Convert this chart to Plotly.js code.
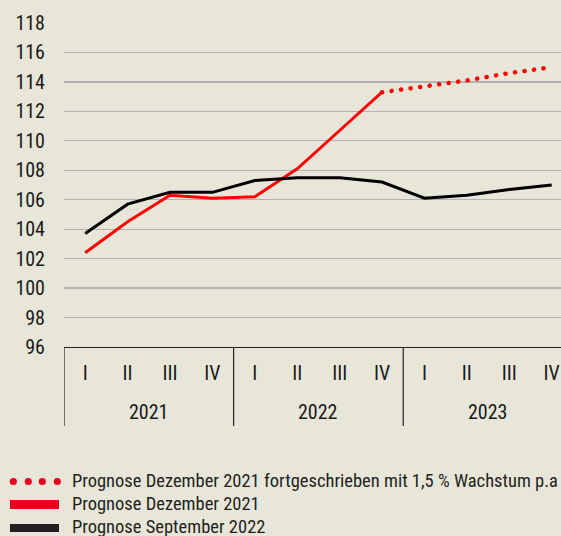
<!DOCTYPE html>
<html>
<head>
<meta charset="utf-8">
<script src="https://cdn.plot.ly/plotly-3.0.1.min.js"></script>
<style>
html,body{margin:0;padding:0;background:#e8e6d9;}
#chart{width:561px;height:536px;}
.tracedotted .js-line{stroke-linecap:round;}
text{font-stretch:condensed;}
</style>
</head>
<body>
<div id="chart"></div>
<script>
// ---- data ----
const years    = ['2021','2021','2021','2021','2022','2022','2022','2022','2023','2023','2023','2023'];
const quarters = ['I','II','III','IV','I','II','III','IV','I','II','III','IV'];
const redDec2021   = [102.4, 104.5, 106.3, 106.1, 106.2, 108.1, 110.7, 113.3, null, null, null, null];
const dottedGrowth = [null, null, null, null, null, null, null, 113.3, 113.7, 114.1, 114.6, 115.0];
const blackSep2022 = [103.7, 105.7, 106.5, 106.5, 107.3, 107.5, 107.5, 107.2, 106.1, 106.3, 106.7, 107.0];
const yTicks = [96, 98, 100, 102, 104, 106, 108, 110, 112, 114, 116, 118];
const legendNames = [
  'Prognose Dezember 2021 fortgeschrieben mit 1,5 % Wachstum p.a',
  'Prognose Dezember 2021',
  'Prognose September 2022'
];

// category keys (year + quarter) for the x scale
const keys = years.map((y, i) => y + ' ' + quarters[i]);
const uniqYears = [...new Set(years)];
const yearCenters = uniqYears.map(y => (years.indexOf(y) + years.lastIndexOf(y)) / 2);
const yearBounds = [-0.5].concat(uniqYears.map(y => years.lastIndexOf(y) + 0.5));

// ---- layout helpers ----
const W = 561, H = 536, ML = 64, MR = 0, MT = 23, MB = 189;
const PW = W - ML - MR, PH = H - MT - MB;
const px = x => (x - ML) / PW;
const py = y => (H - MB - y) / PH;
const FONT = 'Roboto, Liberation Sans Narrow, sans-serif';
const BG = '#e8e6d9';
const XR = [-0.5, 11.22];

const traces = [
  {x: keys, y: dottedGrowth, type: 'scatter', mode: 'lines', uid: 'dotted', name: legendNames[0],
   line: {color: '#ff0000', width: 4.5, dash: '0.1px,9.5px'}, hoverinfo: 'skip'},
  {x: keys, y: redDec2021, type: 'scatter', mode: 'lines', uid: 'red', name: legendNames[1],
   line: {color: '#ff0000', width: 3}, hoverinfo: 'skip'},
  {x: keys, y: blackSep2022, type: 'scatter', mode: 'lines', uid: 'black', name: legendNames[2],
   line: {color: '#000000', width: 3}, hoverinfo: 'skip'}
];

const shapes = [];
const annotations = [];
const tickFont = {family: FONT, size: 20, color: '#1a1a1a'};

// year group labels and dividers, placed on the x scale
uniqYears.forEach((y, i) => {
  annotations.push({text: y, xref: 'x', yref: 'paper', x: yearCenters[i], y: py(412),
    xanchor: 'center', yanchor: 'middle', showarrow: false, font: tickFont});
});
yearBounds.forEach(b => {
  shapes.push({type: 'line', xref: 'x', yref: 'paper', x0: b, x1: b, y0: 0, y1: py(426),
    line: {color: '#222222', width: 1.2}});
});

// custom legend
const rowY = [481.5, 504.5, 528];
[13.3, 28.3, 42.3, 57.3].forEach(cx => {
  shapes.push({type: 'circle', xref: 'paper', yref: 'paper',
    x0: px(cx - 3.6), x1: px(cx + 3.6), y0: py(rowY[0] + 3.6), y1: py(rowY[0] - 3.6),
    fillcolor: '#e8001c', line: {width: 0}});
});
shapes.push({type: 'rect', xref: 'paper', yref: 'paper', x0: px(10), x1: px(59),
  y0: py(rowY[1] + 4.5), y1: py(rowY[1] - 4.5), fillcolor: '#e8001c', line: {width: 0}});
shapes.push({type: 'rect', xref: 'paper', yref: 'paper', x0: px(10), x1: px(59),
  y0: py(rowY[2] + 4), y1: py(rowY[2] - 4), fillcolor: '#231f20', line: {width: 0}});
legendNames.forEach((t, i) => {
  annotations.push({text: t, xref: 'paper', yref: 'paper', x: px(70), y: py(rowY[i] - 1),
    xanchor: 'left', yanchor: 'middle', showarrow: false,
    font: {family: FONT, size: 18.5, color: '#231f20'}});
});

const layout = {
  width: W, height: H,
  margin: {l: ML, r: MR, t: MT, b: MB, pad: 0},
  paper_bgcolor: BG, plot_bgcolor: BG,
  showlegend: false,
  xaxis: {
    type: 'category', range: XR, categoryorder: 'array', categoryarray: keys,
    tickvals: keys, ticktext: quarters,
    showgrid: false, zeroline: false,
    showline: true, linecolor: '#222222', linewidth: 1.2,
    ticks: '', ticklabelstandoff: 8,
    tickfont: tickFont, fixedrange: true
  },
  yaxis: {
    range: [96, 118], tickvals: yTicks, ticktext: yTicks.map(String),
    showgrid: true, gridcolor: '#b3b3b3', gridwidth: 1.3,
    zeroline: false, showline: false, ticks: '',
    ticklabelstandoff: 18,
    tickfont: tickFont, fixedrange: true
  },
  shapes: shapes,
  annotations: annotations
};

Plotly.newPlot('chart', traces, layout, {staticPlot: true, displayModeBar: false});
</script>
</body>
</html>
